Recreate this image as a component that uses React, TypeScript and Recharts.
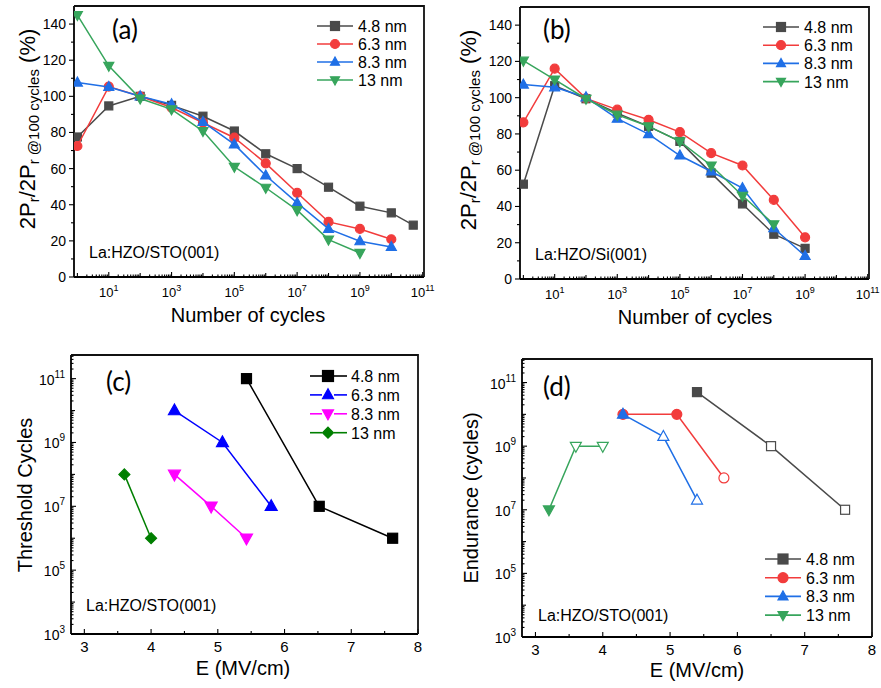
import React from 'react';
import { ScatterChart, Scatter, XAxis, YAxis } from 'recharts';

// ---- data: panel (a) La:HZO/STO(001), normalised 2Pr vs cycles
const cyclesA = [1, 10, 100, 1e3, 1e4, 1e5, 1e6, 1e7, 1e8, 1e9, 1e10, 5e10];
const a48 = [77.5, 94.7, 100, 95, 89, 80.8, 68.2, 60, 49.7, 39.2, 35.5, 28.7];
const a63 = [72.5, 105.4, 100, 93.8, 85.4, 77.1, 62.9, 46.6, 30.5, 26.6, 20.9];
const a83 = [107.6, 105.2, 100, 95.6, 85.8, 73.4, 56.2, 41, 26.6, 19.8, 16.6];
const a13 = [145, 116.9, 98.8, 92.8, 80.8, 61, 49.4, 37, 20.7, 13.3];

// ---- panel (b) La:HZO/Si(001)
const cyclesB = [1, 10, 100, 1e3, 1e4, 1e5, 1e6, 1e7, 1e8, 1e9];
const b48 = [52.3, 106.6, 99.4, 91.5, 84.2, 75.9, 58.4, 41.4, 24.7, 16.9];
const b63 = [86.4, 116, 99.6, 93.4, 87.8, 81, 69.4, 62.6, 43.6, 23];
const b83 = [107.2, 105.7, 100.2, 88.4, 79.9, 68.1, 59.3, 50.1, 28, 12.7];
const b13 = [120.4, 110, 99.4, 90.6, 84.2, 75.9, 62.6, 45.9, 30.2];

// ---- panel (c) threshold cycles vs field
const c48E = [5.43, 6.52, 7.62];
const c48N = [1e11, 1e7, 1e6];
const c63E = [4.35, 5.07, 5.8];
const c63N = [1e10, 1e9, 1e7];
const c83E = [4.35, 4.9, 5.43];
const c83N = [1e8, 1e7, 1e6];
const c13E = [3.6, 4.0];
const c13N = [1e8, 1e6];

// ---- panel (d) endurance vs field (open = hollow symbol)
const d48E = [5.4, 6.5, 7.6];
const d48N = [5e10, 1e9, 1e7];
const d48Open = [false, true, true];
const d63E = [4.3, 5.1, 5.8];
const d63N = [1e10, 1e10, 1e8];
const d63Open = [false, false, true];
const d83E = [4.3, 4.9, 5.4];
const d83N = [1e10, 2e9, 2e7];
const d83Open = [false, true, true];
const d13E = [3.2, 3.6, 4.0];
const d13N = [1e7, 1e9, 1e9];
const d13Open = [false, true, true];

const legendNames = ['4.8 nm', '6.3 nm', '8.3 nm', '13 nm'];
const pctTicks = [0, 20, 40, 60, 80, 100, 120, 140];
const fieldTicks = [3, 4, 5, 6, 7, 8];

const cycleDomain = [0.78, 1.1e11];
const pctDomain = [0, 150];
const fieldDomain = [2.8, 8];
const nDomain = [1e3, 5.5e11];

const GRAY = '#4a4a4a';
const RED = '#f23c3c';
const BLUE = '#1f6fe6';
const GREEN = '#37a55c';
const FONT = '"Liberation Sans", Arial, sans-serif';

const Y_W = 40; // y axis width
const X_H = 30; // x axis height

const pts = (xs: number[], ys: number[], open?: boolean[]) =>
  ys.map((y, i) => ({ x: xs[i], y, open: open ? open[i] : false }));

const logTicks = (lo: number, hi: number, min: number, max: number) => {
  const out: number[] = [];
  for (let e = lo; e <= hi; e++)
    for (let m = 1; m <= 9; m++) {
      const v = Number((m * Math.pow(10, e)).toPrecision(6));
      if (v >= min && v <= max) out.push(v);
    }
  return out;
};

const decade = (v: number) => {
  const e = Math.log10(v);
  const r = Math.round(e);
  return Math.abs(e - r) < 1e-6 ? r : null;
};

type Shape = 'square' | 'circle' | 'up' | 'down' | 'diamond';

function Mark({ shape, cx, cy, color, open, s }: any) {
  const fill = open ? '#fff' : color;
  const sw = 1.2;
  if (cx == null || cy == null) return null;
  switch (shape as Shape) {
    case 'square':
      return <rect x={cx - s / 2} y={cy - s / 2} width={s} height={s} fill={fill} stroke={color} strokeWidth={sw} />;
    case 'circle':
      return <circle cx={cx} cy={cy} r={s / 2} fill={fill} stroke={color} strokeWidth={sw} />;
    case 'up':
      return (
        <polygon
          points={`${cx},${cy - s * 0.55} ${cx - s / 2},${cy + s * 0.35} ${cx + s / 2},${cy + s * 0.35}`}
          fill={fill} stroke={color} strokeWidth={sw} />
      );
    case 'down':
      return (
        <polygon
          points={`${cx},${cy + s * 0.55} ${cx - s / 2},${cy - s * 0.35} ${cx + s / 2},${cy - s * 0.35}`}
          fill={fill} stroke={color} strokeWidth={sw} />
      );
    default:
      return (
        <polygon
          points={`${cx},${cy - s / 2} ${cx + s / 2},${cy} ${cx},${cy + s / 2} ${cx - s / 2},${cy}`}
          fill={fill} stroke={color} strokeWidth={sw} />
      );
  }
}

// log x tick (bottom, inward), labels on odd decades
const CycleTick = (p: any) => {
  const { x, y, payload } = p;
  const d = decade(payload.value);
  const major = d !== null && d % 2 !== 0;
  const len = major ? 5 : d !== null ? 4 : 2.5;
  return (
    <g>
      <line x1={x} x2={x} y1={y} y2={y - len} stroke="#000" strokeWidth={1.1} />
      {major && (
        <text x={x} y={y + 20} textAnchor="middle" fontSize={13} fontFamily={FONT} fill="#000">
          10<tspan dy={-6} fontSize={9}>{d}</tspan>
        </text>
      )}
    </g>
  );
};

// linear y tick (left, outward)
const PctTick = (p: any) => {
  const { x, y, payload } = p;
  const major = payload.value % 20 === 0;
  return (
    <g>
      <line x1={x} x2={x - (major ? 5 : 3)} y1={y} y2={y} stroke="#000" strokeWidth={1.1} />
      {major && (
        <text x={x - 8} y={y + 5} textAnchor="end" fontSize={14} fontFamily={FONT} fill="#000">
          {payload.value}
        </text>
      )}
    </g>
  );
};

// log y tick (left, inward)
const LogYTick = (p: any) => {
  const { x, y, payload } = p;
  const d = decade(payload.value);
  const major = d !== null && d % 2 !== 0;
  const len = major ? 5 : d !== null ? 4 : 2.5;
  return (
    <g>
      <line x1={x} x2={x + len} y1={y} y2={y} stroke="#000" strokeWidth={1.1} />
      {major && (
        <text x={x - 6} y={y + 6} textAnchor="end" fontSize={14} fontFamily={FONT} fill="#000">
          10<tspan dy={-7} fontSize={10}>{d}</tspan>
        </text>
      )}
    </g>
  );
};

// linear x tick (bottom, inward)
const FieldTick = (p: any) => {
  const { x, y, payload } = p;
  const major = Number.isInteger(payload.value);
  return (
    <g>
      <line x1={x} x2={x} y1={y} y2={y - (major ? 5 : 3)} stroke="#000" strokeWidth={1.1} />
      {major && (
        <text x={x} y={y + 18} textAnchor="middle" fontSize={15} fontFamily={FONT} fill="#000">
          {payload.value}
        </text>
      )}
    </g>
  );
};

const frame = { stroke: '#000', strokeWidth: 1.8 };

type Series = { color: string; shape: Shape; size: number; data: { x: number; y: number; open: boolean }[] };

function Panel({ w, h, margin, xAxis, yAxis, series }: any) {
  return (
    <ScatterChart width={w} height={h} margin={margin}>
      {xAxis}
      {yAxis}
      {series.map((s: Series, i: number) => (
        <Scatter
          key={i}
          data={s.data}
          fill={s.color}
          line={{ stroke: s.color, strokeWidth: 1.5 }}
          lineJointType="linear"
          isAnimationActive={false}
          shape={(p: any) => <Mark shape={s.shape} cx={p.cx} cy={p.cy} color={s.color} open={p.payload?.open} s={s.size} />}
        />
      ))}
    </ScatterChart>
  );
}

const cycleAxis = (
  <XAxis type="number" dataKey="x" scale="log" domain={cycleDomain} allowDataOverflow
    ticks={logTicks(0, 11, cycleDomain[0], cycleDomain[1])} interval={0} tickSize={0} tickMargin={0} tickLine={false}
    axisLine={frame} height={X_H} tick={CycleTick} />
);
const pctAxis = (
  <YAxis type="number" dataKey="y" domain={pctDomain} allowDataOverflow
    ticks={[...pctTicks, 10, 30, 50, 70, 90, 110, 130]} interval={0} tickSize={0} tickMargin={0} tickLine={false}
    axisLine={frame} width={Y_W} tick={PctTick} />
);
const fieldAxis = (
  <XAxis type="number" dataKey="x" domain={fieldDomain} allowDataOverflow
    ticks={[...fieldTicks, 3.5, 4.5, 5.5, 6.5, 7.5]} interval={0} tickSize={0} tickMargin={0} tickLine={false}
    axisLine={frame} height={X_H} tick={FieldTick} />
);
const nAxis = (
  <YAxis type="number" dataKey="y" scale="log" domain={nDomain} allowDataOverflow
    ticks={logTicks(3, 11, nDomain[0], nDomain[1])} interval={0} tickSize={0} tickMargin={0} tickLine={false}
    axisLine={frame} width={Y_W} tick={LogYTick} />
);

function Legend({ x, y, step, items, gap, s, fs }: any) {
  return (
    <g>
      {items.map((it: any, i: number) => {
        const cy = y + i * step;
        return (
          <g key={i}>
            {gap ? (
              <>
                <line x1={x} x2={x + 12} y1={cy} y2={cy} stroke={it.color} strokeWidth={1.6} />
                <line x1={x + 24} x2={x + 37} y1={cy} y2={cy} stroke={it.color} strokeWidth={1.6} />
              </>
            ) : (
              <line x1={x} x2={x + 36} y1={cy} y2={cy} stroke={it.color} strokeWidth={1.6} />
            )}
            <Mark shape={it.shape} cx={x + 18} cy={cy} color={it.color} s={s} />
            <text x={x + 41} y={cy + 6} fontSize={fs} fontFamily={FONT} fill="#000">{it.name}</text>
          </g>
        );
      })}
    </g>
  );
}

export default function App() {
  const serA: Series[] = [
    { color: GRAY, shape: 'square', size: 8, data: pts(cyclesA, a48) },
    { color: RED, shape: 'circle', size: 9, data: pts(cyclesA, a63) },
    { color: BLUE, shape: 'up', size: 10, data: pts(cyclesA, a83) },
    { color: GREEN, shape: 'down', size: 10, data: pts(cyclesA, a13) },
  ];
  const serB: Series[] = [
    { color: GRAY, shape: 'square', size: 8, data: pts(cyclesB, b48) },
    { color: RED, shape: 'circle', size: 9, data: pts(cyclesB, b63) },
    { color: BLUE, shape: 'up', size: 10, data: pts(cyclesB, b83) },
    { color: GREEN, shape: 'down', size: 10, data: pts(cyclesB, b13) },
  ];
  const serC: Series[] = [
    { color: '#000000', shape: 'square', size: 10, data: pts(c48E, c48N) },
    { color: '#0000ff', shape: 'up', size: 12, data: pts(c63E, c63N) },
    { color: '#ff00ff', shape: 'down', size: 12, data: pts(c83E, c83N) },
    { color: '#007f00', shape: 'diamond', size: 11, data: pts(c13E, c13N) },
  ];
  const serD: Series[] = [
    { color: GRAY, shape: 'square', size: 9, data: pts(d48E, d48N, d48Open) },
    { color: RED, shape: 'circle', size: 10, data: pts(d63E, d63N, d63Open) },
    { color: BLUE, shape: 'up', size: 11, data: pts(d83E, d83N, d83Open) },
    { color: GREEN, shape: 'down', size: 11, data: pts(d13E, d13N, d13Open) },
  ];
  const legItems = (ser: Series[]) => ser.map((s, i) => ({ color: s.color, shape: s.shape, name: legendNames[i] }));

  const panels = [
    { l: 0, t: 0, w: 440, h: 340, m: { top: 6, right: 16, bottom: 33, left: 34 }, xa: cycleAxis, ya: pctAxis, ser: serA },
    { l: 440, t: 0, w: 441, h: 340, m: { top: 7, right: 12, bottom: 31, left: 40 }, xa: cycleAxis, ya: pctAxis, ser: serB },
    { l: 0, t: 340, w: 440, h: 348, m: { top: 15, right: 22, bottom: 24, left: 31 }, xa: fieldAxis, ya: nAxis, ser: serC },
    { l: 440, t: 340, w: 441, h: 348, m: { top: 19, right: 9, bottom: 21, left: 42 }, xa: fieldAxis, ya: nAxis, ser: serD },
  ];
  const boxes = panels.map((p) => ({
    x0: p.l + p.m.left + Y_W,
    y0: p.t + p.m.top,
    x1: p.l + p.w - p.m.right,
    y1: p.t + p.h - p.m.bottom - X_H,
  }));

  return (
    <div style={{ position: 'absolute', left: 0, top: 0, width: 881, height: 688, background: '#fff' }}>
      {panels.map((p, i) => (
        <div key={'c' + i} style={{ position: 'absolute', left: p.l, top: p.t, zIndex: 1 }}>
          <Panel w={p.w} h={p.h} margin={p.m} xAxis={p.xa} yAxis={p.ya} series={p.ser} />
        </div>
      ))}

      <svg width={881} height={688} style={{ position: 'absolute', left: 0, top: 0, pointerEvents: 'none', zIndex: 5 }}>
        {/* plot frames: top and right edges of each plot box */}
        {boxes.map((b, i) => (
          <path key={'f' + i} d={`M ${b.x0} ${b.y0} H ${b.x1} V ${b.y1}`} fill="none" stroke="#111" strokeWidth={1.8} />
        ))}
        <g fontFamily="Lato, sans-serif" fontSize={26} fill="#000">
          <text x={112} y={39}>(a)</text>
          <text x={543} y={39}>(b)</text>
          <text x={106} y={391}>(c)</text>
          <text x={543} y={396}>(d)</text>
        </g>
        <g fontFamily={FONT} fontSize={16} fill="#000">
          <text x={89} y={258}>La:HZO/STO(001)</text>
          <text x={535} y={260}>La:HZO/Si(001)</text>
          <text x={86} y={611}>La:HZO/STO(001)</text>
          <text x={538} y={621}>La:HZO/STO(001)</text>
        </g>
        <g fontFamily={FONT} fontSize={20} fill="#000" textAnchor="middle">
          <text x={248} y={322}>Number of cycles</text>
          <text x={695} y={324}>Number of cycles</text>
          <text x={243} y={675}>E (MV/cm)</text>
          <text x={697} y={677}>E (MV/cm)</text>
          <text transform="translate(32,495) rotate(-90)">Threshold Cycles</text>
          <text transform="translate(478,498) rotate(-90)">Endurance (cycles)</text>
          {[[35, 129], [476, 130]].map(([tx, ty], i) => (
            <text key={i} transform={`translate(${tx},${ty}) rotate(-90)`} fontSize={22}>
              2P<tspan fontSize={15} dy={4}>r</tspan>
              <tspan dy={-4}>/2P</tspan>
              <tspan fontSize={15} dy={4}>r @100 cycles</tspan>
              <tspan dy={-4}> (%)</tspan>
            </text>
          ))}
        </g>
        <Legend x={317} y={26} step={18} items={legItems(serA)} s={9} fs={16} />
        <Legend x={763} y={27} step={18.2} items={legItems(serB)} s={9} fs={16} />
        <Legend x={310} y={376} step={18.9} items={legItems(serC)} s={11} fs={16} gap />
        <Legend x={765} y={559} step={18.7} items={legItems(serD)} s={10} fs={16} />
      </svg>
    </div>
  );
}
